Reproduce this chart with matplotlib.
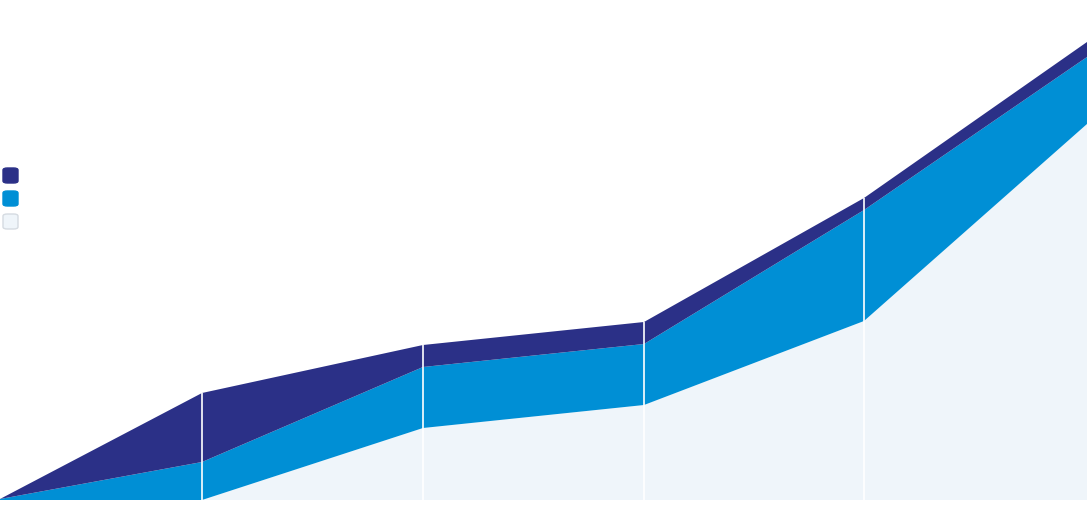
import matplotlib.pyplot as plt
from matplotlib.patches import FancyBboxPatch
import numpy as np

# x positions of the samples (uneven spacing as in the source) and the
# three stacked series (bottom to top)
x_points = [0, 2.02, 4.23, 6.44, 8.64, 10.87]
light_vals = [0, 0, 72, 95, 179, 376]
blue_vals = [1, 38, 61, 61, 111, 67]
dark_vals = [0, 69, 22, 22, 12, 15]

colors = ["#eff5fa", "#008fd5", "#2b3087"]

fig = plt.figure(figsize=(10.87, 5.21), dpi=100)
ax = fig.add_axes([0, 21 / 521, 1, 500 / 521])

ax.stackplot(x_points, light_vals, blue_vals, dark_vals, colors=colors, linewidth=0)

# thin white separators at every sample inside the stack
totals = np.array(light_vals) + np.array(blue_vals) + np.array(dark_vals)
for xp, tot in zip(x_points[1:-1], totals[1:-1]):
    ax.vlines(xp, 0, tot, colors="white", linewidth=1.2)

ax.set_xlim(0, 10.87)
ax.set_ylim(0, 500)
ax.axis("off")

# legend swatches (no text)
swatch_y = [167, 190, 213]
for c, yy in zip(colors[::-1], swatch_y):
    edge = "#d5dbe1" if c == colors[0] else c
    box = FancyBboxPatch((3 / 1087, 1 - (yy + 16) / 521), 15 / 1087, 15 / 521,
                         boxstyle="round,pad=0,rounding_size=0.004",
                         transform=fig.transFigure, facecolor=c, edgecolor=edge,
                         linewidth=1)
    fig.patches.append(box)

fig.savefig("out.png", dpi=100)
